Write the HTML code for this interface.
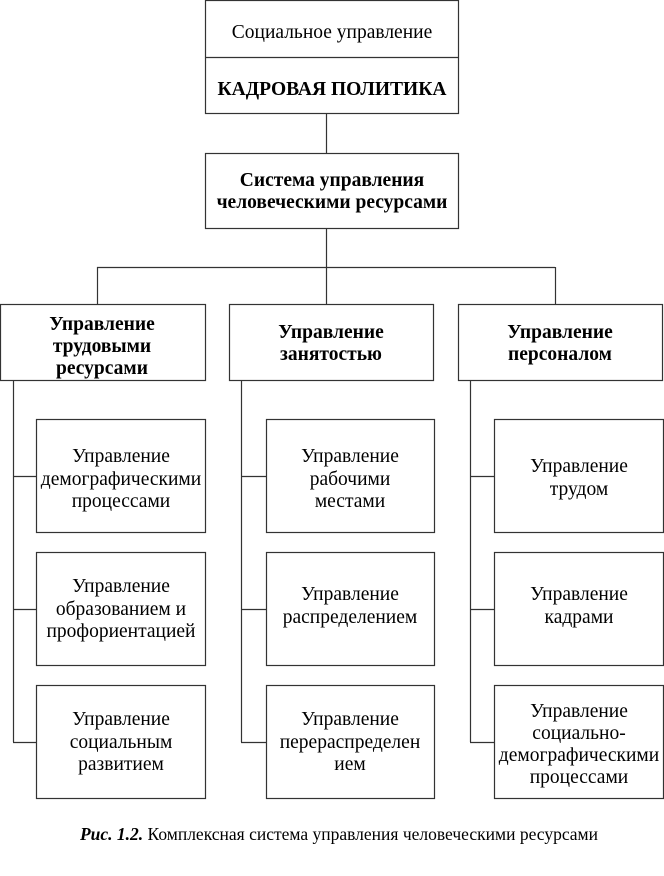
<!DOCTYPE html>
<html><head><meta charset="utf-8"><style>
html,body{margin:0;padding:0;background:#fff;}
svg{display:block;}
text{font-family:"Liberation Serif","Noto Serif CJK SC",serif;font-size:19.5px;fill:#000;}
.b{font-weight:bold;}
</style></head><body>
<svg width="664" height="876" viewBox="0 0 664 876" xmlns="http://www.w3.org/2000/svg">
<g fill="none" stroke="#333" stroke-width="1.2">
<rect x="205.5" y="0.5" width="253" height="113"/>
<line x1="205" y1="57.5" x2="458" y2="57.5"/>
<line x1="326.5" y1="114" x2="326.5" y2="153"/>
<rect x="205.5" y="153.5" width="253" height="75"/>
<line x1="326.5" y1="229" x2="326.5" y2="304"/>
<line x1="97" y1="267.5" x2="555" y2="267.5"/>
<line x1="97.5" y1="267" x2="97.5" y2="304"/>
<line x1="555.5" y1="267" x2="555.5" y2="304"/>
<rect x="0.5" y="304.5" width="205" height="76"/>
<rect x="229.5" y="304.5" width="204" height="76"/>
<rect x="458.5" y="304.5" width="204" height="76"/>
<line x1="13.5" y1="381" x2="13.5" y2="742"/>
<line x1="241.5" y1="381" x2="241.5" y2="742"/>
<line x1="470.5" y1="381" x2="470.5" y2="742"/>
<g>
<line x1="13" y1="476.5" x2="36" y2="476.5"/><line x1="13" y1="609.5" x2="36" y2="609.5"/><line x1="13" y1="742.5" x2="36" y2="742.5"/>
<line x1="241" y1="476.5" x2="266" y2="476.5"/><line x1="241" y1="609.5" x2="266" y2="609.5"/><line x1="241" y1="742.5" x2="266" y2="742.5"/>
<line x1="470" y1="476.5" x2="494" y2="476.5"/><line x1="470" y1="609.5" x2="494" y2="609.5"/><line x1="470" y1="742.5" x2="494" y2="742.5"/>
</g>
<rect x="36.5" y="419.5" width="169" height="113"/>
<rect x="36.5" y="552.5" width="169" height="113"/>
<rect x="36.5" y="685.5" width="169" height="113"/>
<rect x="266.5" y="419.5" width="168" height="113"/>
<rect x="266.5" y="552.5" width="168" height="113"/>
<rect x="266.5" y="685.5" width="168" height="113"/>
<rect x="494.5" y="419.5" width="169" height="113"/>
<rect x="494.5" y="552.5" width="169" height="113"/>
<rect x="494.5" y="685.5" width="169" height="113"/>
</g>
<g text-anchor="middle">
<text x="332" y="38">Социальное управление</text>
<text x="332" y="95" class="b">КАДРОВАЯ ПОЛИТИКА</text>
<text x="332" y="186" class="b">Система управления</text>
<text x="332" y="208" class="b">человеческими ресурсами</text>
<text x="102" y="330" class="b">Управление</text>
<text x="102" y="352" class="b">трудовыми</text>
<text x="102" y="374" class="b">ресурсами</text>
<text x="331" y="338" class="b">Управление</text>
<text x="331" y="360" class="b">занятостью</text>
<text x="560" y="338" class="b">Управление</text>
<text x="560" y="360" class="b">персоналом</text>

<text x="121" y="462">Управление</text>
<text x="121" y="485">демографическими</text>
<text x="121" y="507">процессами</text>
<text x="121" y="592">Управление</text>
<text x="121" y="615">образованием и</text>
<text x="121" y="637">профориентацией</text>
<text x="121" y="725">Управление</text>
<text x="121" y="748">социальным</text>
<text x="121" y="770">развитием</text>

<text x="350" y="462">Управление</text>
<text x="350" y="485">рабочими</text>
<text x="350" y="507">местами</text>
<text x="350" y="600">Управление</text>
<text x="350" y="623">распределением</text>
<text x="350" y="725">Управление</text>
<text x="350" y="748">перераспределен</text>
<text x="350" y="770">ием</text>

<text x="579" y="472">Управление</text>
<text x="579" y="495">трудом</text>
<text x="579" y="600">Управление</text>
<text x="579" y="623">кадрами</text>
<text x="579" y="717">Управление</text>
<text x="579" y="739">социально-</text>
<text x="579" y="761">демографическими</text>
<text x="579" y="783">процессами</text>
</g>
<text x="339" y="840" text-anchor="middle" style="font-size:17.5px"><tspan font-style="italic" font-weight="bold">Рис. 1.2.</tspan> Комплексная система управления человеческими ресурсами</text>
</svg>
</body></html>
